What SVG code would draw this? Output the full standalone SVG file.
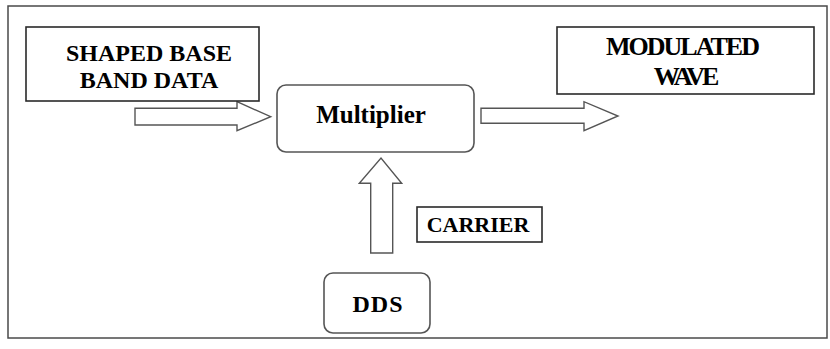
<svg xmlns="http://www.w3.org/2000/svg" width="830" height="349" viewBox="0 0 830 349">
  <style>
    .frame { fill: #ffffff; stroke: #4a4a4a; stroke-width: 1.5; }
    .box { fill: #ffffff; stroke: #2a2a2a; stroke-width: 1.6; }
    .rbox { fill: #ffffff; stroke: #555555; stroke-width: 1.6; }
    .arrow { fill: #ffffff; stroke: #555555; stroke-width: 1.4; stroke-linejoin: miter; }
    .label { font-family: 'Liberation Serif', 'Times New Roman', serif; font-weight: 700; fill: #000000; text-anchor: middle; }
  </style>

  <!-- outer frame -->
  <rect class="frame" x="8" y="6" width="819" height="332"/>

  <!-- block arrows -->
  <g id="connectors">
    <polygon class="arrow" points="135,108.3 237,108.3 237,101.7 270.7,116.7 237,130.7 237,125 135,125"/>
    <polygon class="arrow" points="481,108.3 584,108.3 584,101.7 618,116 584,130.7 584,123.3 481,123.3"/>
    <polygon class="arrow" points="370.7,253 370.7,183.3 359.3,183.3 381,158 401.7,183.3 392.7,183.3 392.7,253"/>
  </g>

  <g id="shaped-base-band-data">
    <rect class="box" x="26" y="27" width="233" height="74"/>
    <text class="label" x="149" y="61" font-size="24">SHAPED BASE</text>
    <text class="label" x="149" y="88" font-size="24">BAND DATA</text>
  </g>

  <g id="multiplier">
    <rect class="rbox" x="277" y="85" width="197" height="67" rx="9" ry="9"/>
    <text class="label" x="371" y="123" font-size="25">Multiplier</text>
  </g>

  <g id="modulated-wave">
    <rect class="box" x="557" y="27" width="257" height="67"/>
    <text class="label" x="682" y="55" font-size="26" letter-spacing="-2">MODULATED</text>
    <text class="label" x="685" y="85" font-size="26" letter-spacing="-3">WAVE</text>
  </g>

  <g id="carrier">
    <rect class="box" x="417" y="207" width="125" height="35"/>
    <text class="label" x="478" y="232" font-size="22">CARRIER</text>
  </g>

  <g id="dds">
    <rect class="rbox" x="324" y="273" width="106" height="60" rx="9" ry="9"/>
    <text class="label" x="378" y="312" font-size="24" letter-spacing="1">DDS</text>
  </g>
</svg>
